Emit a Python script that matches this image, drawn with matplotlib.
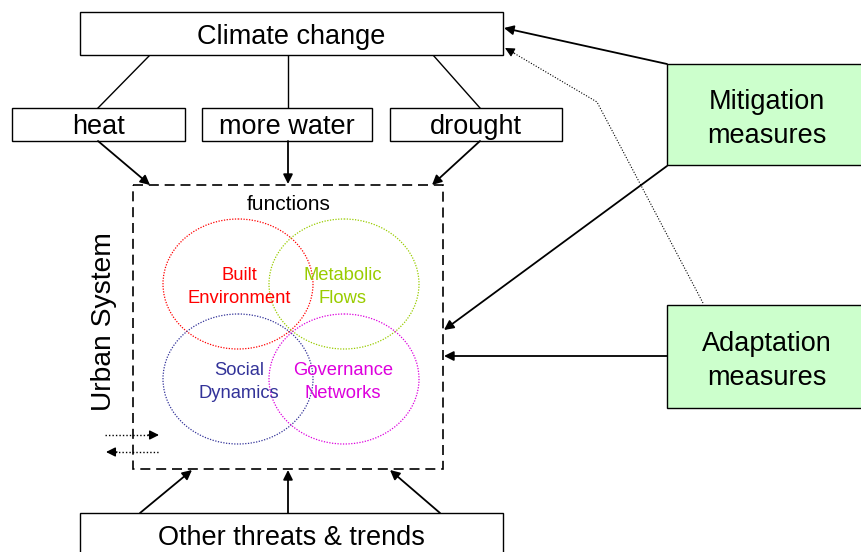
import matplotlib
matplotlib.use("Agg")
import matplotlib.pyplot as plt
from matplotlib.patches import Rectangle, Ellipse

plt.rcParams['font.family'] = ['Liberation Sans', 'DejaVu Sans']

# ---- content ----
top_label = "Climate change"
impact_labels = ["heat", "more water", "drought"]
bottom_label = "Other threats & trends"
measure_labels = ["Mitigation\nmeasures", "Adaptation\nmeasures"]
system_label = "Urban System"
functions_label = "functions"
domain_labels = ["Built\nEnvironment", "Metabolic\nFlows", "Social\nDynamics", "Governance\nNetworks"]
domain_colors = ["#FF0000", "#99CC00", "#333399", "#DD00DD"]

# ---- layout (pixel coordinates) ----
W, H = 862, 552
fig = plt.figure(figsize=(W / 100, H / 100), dpi=100)
ax = fig.add_axes([0, 0, 1, 1])
ax.set_xlim(0, W)
ax.set_ylim(H, 0)
ax.axis('off')

BIG = 19.5
MID = 13.2

def box(x0, y0, x1, y1, fc='white', lw=1.0):
    ax.add_patch(Rectangle((x0, y0), x1 - x0, y1 - y0, fc=fc, ec='black', lw=lw, zorder=2))

def arrow(x0, y0, x1, y1, lw=1.3, ls='-'):
    ax.annotate("", xy=(x1, y1), xytext=(x0, y0),
                arrowprops=dict(arrowstyle='-|>', color='black', lw=lw, ls=ls,
                                mutation_scale=14, shrinkA=0, shrinkB=0), zorder=3)

# climate change box
box(80, 12, 503, 55)
ax.text(291, 37, top_label, ha='center', va='center', fontsize=BIG, zorder=4)

# impact boxes
impact_boxes = [(12, 108, 185, 141), (202, 108, 372, 141), (390, 108, 562, 141)]
line_tops = [(150, 55, 98, 108), (288, 55, 288, 108), (433, 55, 480, 108)]
arrows_down = [(98, 141, 150, 185), (288, 141, 288, 184), (480, 141, 432, 185)]
for lab, (x0, y0, x1, y1), ln, ar in zip(impact_labels, impact_boxes, line_tops, arrows_down):
    box(x0, y0, x1, y1)
    ax.text((x0 + x1) / 2, (y0 + y1) / 2 + 3, lab, ha='center', va='center', fontsize=BIG, zorder=4)
    ax.plot([ln[0], ln[2]], [ln[1], ln[3]], color='black', lw=1.0, zorder=1)
    arrow(*ar)

# urban system dashed box
ax.add_patch(Rectangle((133, 185), 310, 284, fc='none', ec='black', lw=1.2,
                       ls=(0, (6, 3.5)), zorder=2))
ax.text(289, 204, functions_label, ha='center', va='center', fontsize=15, zorder=4)
ax.text(104, 322, system_label, ha='center', va='center', rotation=90, fontsize=20.3, zorder=4)

# domain ellipses
centers = [(238, 284), (344, 284), (238, 379), (344, 379)]
for (cx, cy), lab, col in zip(centers, domain_labels, domain_colors):
    ax.add_patch(Ellipse((cx, cy), 150, 130, fc='none', ec=col, lw=0.9, ls=(0, (1, 1.2)), zorder=3))
for (cx, cy), lab, col in zip(centers, domain_labels, domain_colors):
    ax.text(cx + (-1 if cx > 300 else 1), cy + 3, lab, ha='center', va='center', color=col,
            fontsize=MID, linespacing=1.45, zorder=4)

# small dotted feedback arrows
ax.plot([105, 150], [435, 435], color='black', lw=1.0, ls=(0, (1, 1.5)), zorder=3)
arrow(148, 435, 159, 435, lw=1.0)
ax.plot([115, 159], [452, 452], color='black', lw=1.0, ls=(0, (1, 1.5)), zorder=3)
arrow(117, 452, 106, 452, lw=1.0)

# other threats box
box(80, 513, 503, 570)
ax.text(291, 538, bottom_label, ha='center', va='center', fontsize=BIG, zorder=4)
for ar in [(140, 513, 192, 470), (288, 513, 288, 470), (440, 513, 390, 470)]:
    arrow(*ar)

# measures boxes
mbox = [(667, 64, 870, 165), (667, 305, 870, 408)]
for lab, (x0, y0, x1, y1) in zip(measure_labels, mbox):
    box(x0, y0, x1, y1, fc='#CCFFCC')
    ax.text(767, (y0 + y1) / 2 + 4.5, lab, ha='center', va='center', fontsize=BIG,
            linespacing=1.36, zorder=4)

# measure arrows
arrow(667, 64, 504, 28)
arrow(667, 166, 444, 330)
arrow(667, 356, 444, 356)

# dotted adaptation -> climate change path
ax.plot([703, 597, 512], [303, 102, 52], color='black', lw=0.8, ls=(0, (1, 1.5)), zorder=3)
arrow(514, 53, 505, 48, lw=0.8)

fig.savefig("out.png", dpi=100)
